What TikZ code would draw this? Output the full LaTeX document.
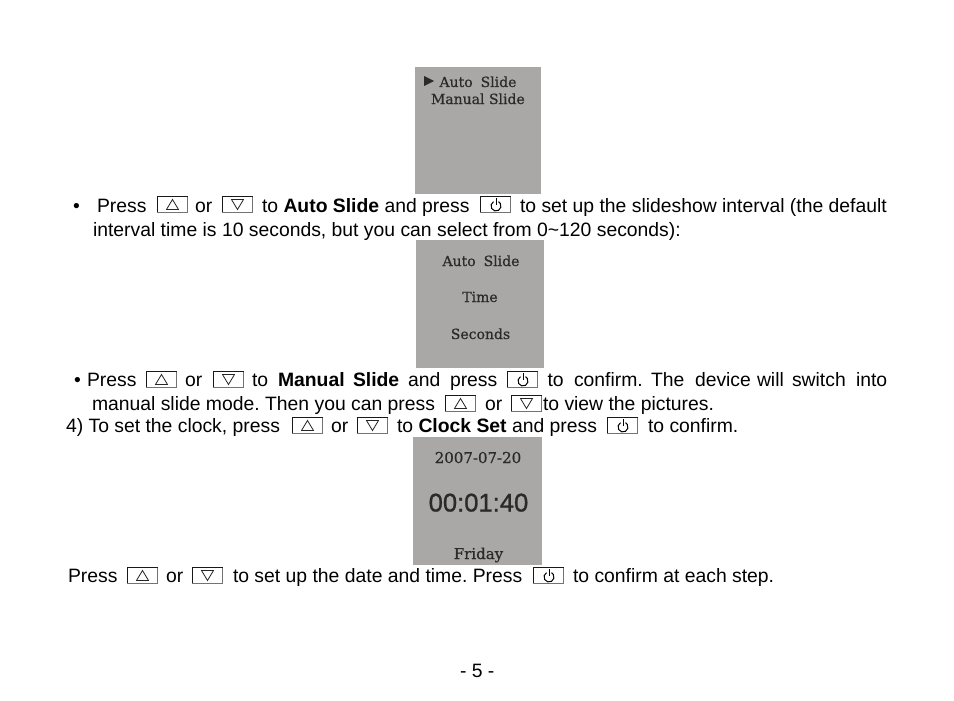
\documentclass[tikz,border=0pt]{standalone}
\usepackage{fontspec}
\setmainfont{Liberation Sans}
\newfontfamily\lcdfont[RawFeature={embolden=0.6}]{DejaVu Serif}
\newfontfamily\clockfont[RawFeature={embolden=1.0}]{Liberation Sans}
\usetikzlibrary{positioning}
\tikzset{
  x=1pt,y=-1pt,
  txt/.style={anchor=base west,inner sep=0pt,outer sep=0pt,font=\fontsize{19.35}{21}\selectfont\frenchspacing,text=black},
  screen/.style={draw=none,fill=lcdgrey,anchor=north west,inner sep=0pt,outer sep=0pt},
  lcd/.style={anchor=base,inner sep=0pt,outer sep=0pt,text=lcdink,font=\lcdfont\fontsize{14}{16}\selectfont},
  lcdbig/.style={lcd,font=\lcdfont\fontsize{15}{16}\selectfont},
  clock/.style={anchor=base,inner sep=0pt,outer sep=0pt,text=lcdink,font=\clockfont\fontsize{25.6}{30}\selectfont},
  btn/.style={draw=black!55,line width=0.8pt,fill=white,anchor=north west,minimum width=30.5pt,minimum height=16pt,inner sep=0pt,outer sep=0pt},
  btnedge/.style={draw=black!90,line width=1pt},
  glyph/.style={draw=black!85,line width=0.8pt},
  pglyph/.style={draw=black,line width=1pt},
}
\definecolor{lcdgrey}{HTML}{A9A8A6}
\definecolor{lcdink}{HTML}{2A2A2A}
\newcommand{\btnbox}[2]{\node[btn] (bx) at (#1,#2) {};
  \draw[btnedge] (bx.south west) -- (bx.north west) -- (bx.north east);}
\newcommand{\upbtn}[2]{\btnbox{#1}{#2}
  \draw[glyph] (#1+15.5,#2+3.5) -- (#1+9.5,#2+13.5) -- (#1+21.5,#2+13.5) -- cycle;}
\newcommand{\downbtn}[2]{\btnbox{#1}{#2}
  \draw[glyph] (#1+15.5,#2+13.5) -- (#1+9.5,#2+3.5) -- (#1+21.5,#2+3.5) -- cycle;}
\newcommand{\pwrbtn}[2]{\btnbox{#1}{#2}
  \draw[pglyph] (#1+13.5,#2+5.67) arc[start angle=-120,end angle=-420,radius=5];
  \draw[pglyph] (#1+16,#2+2) -- (#1+16,#2+8.5);}
\begin{document}
\begin{tikzpicture}
\useasboundingbox (0,0) rectangle (954,701);
\fill[white] (0,0) rectangle (954,701);
% screens
\node[screen,minimum width=126pt,minimum height=127pt] (s1) at (415,67) {};
\node[screen,minimum width=128pt,minimum height=128pt] (s2) at (416,240) {};
\node[screen,minimum width=129pt,minimum height=128pt] (s3) at (413,437) {};
\fill[lcdink] (424,76) -- (434,81) -- (424,86) -- cycle;
\node[lcd,anchor=base west] (a1) at (439.5,87) {Auto\hspace{8pt}Slide};
\node[lcd,anchor=base west] (a2) at (431,104) {Manual Slide};
\node[lcd] (b1) at (481,266) {Auto\hspace{8pt}Slide};
\node[lcd] (b2) at (480,302) {Time};
\node[lcd] (b3) at (480.5,339) {Seconds};
\node[lcdbig] (c1) at (478,463) {2007-07-20};
\node[clock] (c2) at (478.5,511.5) {00:01:40};
\node[lcdbig] (c3) at (478.5,559) {Friday};
% line 1
\node[txt] (l1a) at (73,212) {•};
\node[txt] (l1b) at (97,212) {Press};
\upbtn{157}{196}
\node[txt] (l1c) at (195,212) {or};
\downbtn{222}{196}
\node[txt] (l1d) at (262,212) {to \textbf{Auto Slide} and press};
\pwrbtn{480}{196}
\node[txt] (l1e) at (520,212) {to set up the slideshow interval (the default};
\node[txt] (l2) at (93,236) {interval time is 10 seconds, but you can select from 0\textasciitilde120 seconds):};
% line 3
\node[txt] (l3a) at (74,386) {•};
\node[txt] (l3o) at (87,386) {Press};
\upbtn{146}{371}
\node[txt] (l3b) at (185,386) {or};
\downbtn{213}{371}
\node[txt] (l3c) at (252,386) {to};
\node[txt] (l3d) at (278,386) {\textbf{Manual}};
\node[txt] (l3e) at (353,386) {\textbf{Slide}};
\node[txt] (l3f) at (408,386) {and};
\node[txt] (l3g) at (450,386) {press};
\pwrbtn{507}{371}
\node[txt] (l3h) at (547.5,386) {to};
\node[txt] (l3i) at (574,386) {confirm.};
\node[txt] (l3j) at (651,386) {The};
\node[txt] (l3k) at (695,386) {device};
\node[txt] (l3l) at (757,386) {will};
\node[txt] (l3m) at (792,386) {switch};
\node[txt] (l3n) at (856,386) {into};
\node[txt] (l4a) at (92,410) {manual slide mode. Then you can press};
\upbtn{445}{395}
\node[txt] (l4b) at (485,410) {or};
\downbtn{511}{395}
\node[txt] (l4c) at (543,410) {to view the pictures.};
% line 5
\node[txt] (l5a) at (66,432) {4) To set the clock, press};
\upbtn{292}{417}
\node[txt] (l5b) at (331,432) {or};
\downbtn{357}{417}
\node[txt] (l5c) at (397,432) {to \textbf{Clock Set} and press};
\pwrbtn{607}{417}
\node[txt] (l5d) at (648,432) {to confirm.};
% last
\node[txt] (l6a) at (68,582) {Press};
\upbtn{127}{567}
\node[txt] (l6b) at (166,582) {or};
\downbtn{192}{567}
\node[txt] (l6c) at (233,582) {to set up the date and time. Press};
\pwrbtn{533}{567}
\node[txt] (l6d) at (573,582) {to confirm at each step.};
\node[txt] (pg) at (460,677) {- 5 -};
\end{tikzpicture}
\end{document}
